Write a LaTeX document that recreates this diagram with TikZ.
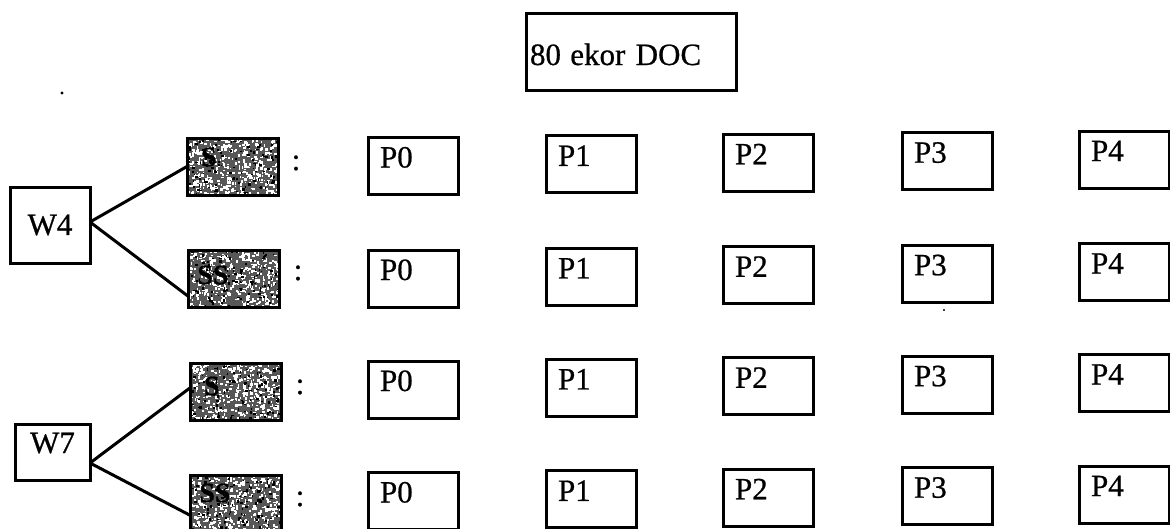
\documentclass[tikz,border=0pt]{standalone}
\usepackage{fontspec}
\setmainfont{Liberation Serif}[FakeBold=0.7]
\usetikzlibrary{calc}

\tikzset{
  txt/.style={font=\fontsize{31}{36}\selectfont},
  frame/.style={draw, line width=3pt, inner sep=0pt, outer sep=0pt, txt},
  pbox/.style={frame, anchor=north west, minimum width=90pt, minimum height=57pt,
    text width=66pt, align=left, inner xsep=12pt, inner ysep=2pt,
    text height=28pt, text depth=25pt},
  wbox/.style={frame, minimum width=78pt, minimum height=66pt},
  sbox/.style={draw, line width=3pt, minimum width=91pt, minimum height=57pt,
    inner sep=0pt, outer sep=0pt, fill=black!66,
    path picture={
      \foreach \k in {1,...,420}{
        \fill[white] ($(path picture bounding box.north west)+(rnd*92,rnd*58)$)
          rectangle ++(1+rnd*2.2,1+rnd*2.2);
      }
      \foreach \k in {1,...,120}{
        \fill[black] ($(path picture bounding box.north west)+(rnd*92,rnd*58)$)
          rectangle ++(1+rnd*2,1+rnd*2);
      }
    }},
  slab/.style={font=\fontsize{28}{32}\selectfont\bfseries, text=black, inner sep=0pt},
  colon/.style={txt, anchor=base, inner sep=0pt},
  conn/.style={line width=3pt},
}

\begin{document}
\begin{tikzpicture}[x=1pt, y=-1pt]
  \pgfmathsetseed{4711}
  \useasboundingbox (0,0) rectangle (1170,528);

  % starting stock
  \node[frame, anchor=north west, minimum width=210pt, minimum height=77pt,
        text width=202pt, align=left, inner xsep=4pt, inner ysep=2pt,
        text height=50pt, text depth=23pt] (doc) at (526,13) {80\hspace{0.3em}ekor DOC};

  % age groups
  \node[wbox, minimum width=80pt, minimum height=76pt] (w4) at (50,225) {W4};
  \node[frame, minimum width=75pt, minimum height=56pt, inner ysep=4pt,
        text height=25pt, text depth=23pt] (w7) at (52.5,452) {W7};

  % shaded treatment boxes
  \node[sbox] (s1) at (232.5,166.5) {};
  \node[sbox] (s2) at (234,278.5) {};
  \node[sbox] (s3) at (236,391.5) {};
  \node[sbox] (s4) at (236,503.5) {};
  \node[slab] (l1) at (209,157) {S};
  \node[slab] (l2) at (213,275) {SS};
  \node[slab] (l3) at (212,386) {S};
  \node[slab] (l4) at (215,493) {SS};

  % colons
  \node[colon] (c1) at (296,170) {:};
  \node[colon] (c2) at (298,280) {:};
  \node[colon] (c3) at (300,394) {:};
  \node[colon] (c4) at (300,506) {:};

  % branches
  \draw[conn] ([yshift=3pt]w4.east) -- (s1.west);
  \draw[conn] ([yshift=3pt]w4.east) -- ([yshift=-18pt]s2.west);
  \draw[conn] ([yshift=-11pt]w7.east) -- ([yshift=4pt]s3.west);
  \draw[conn] ([yshift=-11pt]w7.east) -- ([yshift=-12pt]s4.west);

  % period boxes P0 ... P4 for each row
  \foreach \r/\top in {1/137.5, 2/250, 3/361, 4/472.5}{
    \foreach \c/\left in {0/368, 1/546, 2/723, 3/902, 4/1079}{
      \node[pbox] (p\r\c) at (\left, \top-1.6*\c) {P\c};
    }
  }

  % specks
  \fill (62,93) circle (1.6);
  \fill (944,310) circle (1.2);
\end{tikzpicture}
\end{document}
